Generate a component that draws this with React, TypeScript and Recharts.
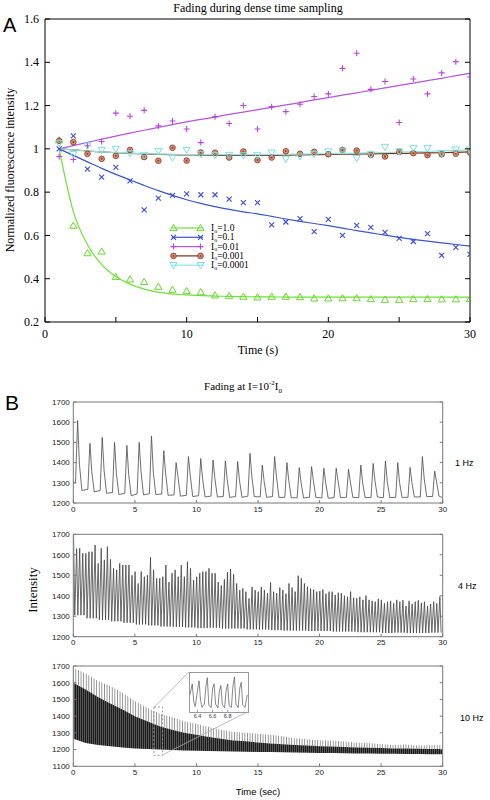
import React from 'react';
import {
  ComposedChart,
  LineChart,
  Line,
  Scatter,
  Area,
  XAxis,
  YAxis,
  ReferenceArea,
  ReferenceLine,
  Legend,
} from 'recharts';

const SERIF = '"Liberation Serif", "DejaVu Serif", serif';
const SANS = '"Liberation Sans", Arial, sans-serif';

// ---- panel A: one frame per second, normalized intensity ----
const TIME_A = [1, 2, 3, 4, 5, 6, 7, 8, 9, 10, 11, 12, 13, 14, 15, 16, 17, 18, 19, 20, 21, 22, 23, 24, 25, 26, 27, 28, 29, 30];

const PTS_1 = [1.04, 0.645, 0.518, 0.526, 0.408, 0.397, 0.385, 0.363, 0.349, 0.343, 0.338, 0.323, 0.32, 0.317, 0.314, 0.317, 0.317, 0.315, 0.309, 0.309, 0.31, 0.31, 0.306, 0.303, 0.303, 0.306, 0.306, 0.305, 0.305, 0.307];
const FIT_1 = [1.0, 0.71, 0.557, 0.465, 0.41, 0.375, 0.352, 0.338, 0.329, 0.325, 0.322, 0.32, 0.318, 0.317, 0.316, 0.316, 0.315, 0.315, 0.315, 0.315, 0.315, 0.315, 0.315, 0.315, 0.315, 0.315, 0.315, 0.315, 0.315, 0.315];

const PTS_01 = [1.0, 1.06, 0.906, 0.869, 0.914, 0.852, 0.718, 0.772, 0.785, 0.792, 0.788, 0.788, 0.768, 0.752, 0.752, 0.649, 0.662, 0.678, 0.618, 0.674, 0.6, 0.646, 0.637, 0.614, 0.586, 0.572, 0.608, 0.508, 0.545, 0.512];
const FIT_01 = [1.0, 0.97, 0.94, 0.91, 0.882, 0.856, 0.831, 0.807, 0.785, 0.765, 0.748, 0.733, 0.72, 0.709, 0.7, 0.688, 0.676, 0.665, 0.655, 0.645, 0.634, 0.622, 0.612, 0.601, 0.591, 0.582, 0.574, 0.566, 0.558, 0.551];

const PTS_001 = [0.965, 0.951, 1.015, 1.034, 1.165, 1.151, 1.178, 1.106, 1.129, 1.092, 1.029, 1.148, 1.117, 1.2, 1.092, 1.195, 1.172, 1.206, 1.242, 1.254, 1.372, 1.442, 1.275, 1.311, 1.122, 1.323, 1.254, 1.351, 1.403, 1.332];
const FIT_001 = [1.0, 1.015, 1.03, 1.045, 1.059, 1.073, 1.086, 1.099, 1.112, 1.125, 1.136, 1.147, 1.159, 1.17, 1.181, 1.192, 1.203, 1.214, 1.226, 1.237, 1.248, 1.259, 1.27, 1.282, 1.293, 1.304, 1.315, 1.326, 1.338, 1.349];

const PTS_0001 = [1.037, 1.031, 0.977, 0.954, 0.968, 0.995, 0.962, 0.945, 1.005, 0.946, 0.983, 0.982, 0.96, 0.988, 0.948, 0.96, 0.989, 0.977, 0.986, 0.975, 0.995, 0.992, 0.972, 0.965, 0.986, 0.98, 0.971, 0.975, 0.978, 0.983];
const FIT_0001 = [1.0, 0.995, 0.99, 0.986, 0.982, 0.979, 0.977, 0.975, 0.973, 0.972, 0.971, 0.97, 0.97, 0.97, 0.97, 0.97, 0.971, 0.972, 0.973, 0.974, 0.975, 0.976, 0.977, 0.978, 0.979, 0.98, 0.981, 0.982, 0.984, 0.986];

const PTS_00001 = [1.026, 0.975, 1.015, 0.995, 1.0, 0.98, 0.97, 0.99, 0.96, 0.995, 0.975, 0.971, 0.972, 0.97, 0.97, 0.983, 0.954, 0.965, 0.975, 0.988, 0.991, 0.957, 0.975, 1.009, 0.988, 1.003, 1.003, 0.98, 0.997, 0.997];
const FIT_00001 = [1.0, 0.995, 0.99, 0.986, 0.983, 0.98, 0.978, 0.976, 0.975, 0.974, 0.973, 0.973, 0.973, 0.973, 0.973, 0.974, 0.975, 0.976, 0.977, 0.978, 0.979, 0.98, 0.982, 0.983, 0.985, 0.987, 0.989, 0.991, 0.993, 0.995];

const X_TICKS_A = [0, 5, 10, 15, 20, 25, 30];
const Y_TICKS_A = [0.2, 0.4, 0.6, 0.8, 1, 1.2, 1.4, 1.6];

const SERIES_A = [
  { label: '1.0', pts: PTS_1, fit: FIT_1, line: '#6ee03a', color: '#66d82a', fill: 'none', kind: 'triUp' },
  { label: '0.1', pts: PTS_01, fit: FIT_01, line: '#3a55d0', color: '#3a4ad8', fill: 'none', kind: 'cross' },
  { label: '0.01', pts: PTS_001, fit: FIT_001, line: '#b455dc', color: '#b944e0', fill: 'none', kind: 'plus' },
  { label: '0.001', pts: PTS_0001, fit: FIT_0001, line: '#7a2d18', color: '#8b3a26', fill: '#d9967c', kind: 'dot' },
  { label: '0.0001', pts: PTS_00001, fit: FIT_00001, line: '#8ee8e0', color: '#78e0da', fill: 'none', kind: 'triDown' },
];

// ---- panel B: fading at I = 1e-2 I0 ----
const X_TICKS_B = [0, 5, 10, 15, 20, 25, 30];
const Y_TICKS_B = [1200, 1300, 1400, 1500, 1600, 1700];
const Y_TICKS_B3 = [1100, 1200, 1300, 1400, 1500, 1600, 1700];

// 1 Hz: one flash per second
const CYCLE_1HZ = [0, 1, 2, 3, 4, 5, 6, 7, 8, 9, 10, 11, 12, 13, 14, 15, 16, 17, 18, 19, 20, 21, 22, 23, 24, 25, 26, 27, 28, 29];
const PEAK_1HZ = [1608, 1495, 1525, 1500, 1485, 1500, 1532, 1459, 1400, 1430, 1420, 1413, 1408, 1405, 1446, 1388, 1430, 1400, 1375, 1380, 1372, 1372, 1367, 1388, 1396, 1408, 1400, 1376, 1430, 1358];
const SHOULDER_1HZ = [1390, 1355, 1362, 1345, 1340, 1355, 1350, 1345, 1330, 1335, 1320, 1320, 1315, 1310, 1330, 1305, 1330, 1310, 1300, 1310, 1300, 1310, 1305, 1300, 1310, 1305, 1300, 1300, 1320, 1305];
const TAIL_1HZ = [1262, 1255, 1248, 1242, 1236, 1240, 1242, 1238, 1234, 1232, 1230, 1230, 1228, 1228, 1232, 1228, 1228, 1226, 1225, 1228, 1224, 1227, 1228, 1226, 1230, 1227, 1228, 1230, 1232, 1234];
const BASE_1HZ = [1300, 1268, 1262, 1252, 1248, 1245, 1246, 1244, 1240, 1238, 1236, 1234, 1232, 1232, 1234, 1230, 1232, 1228, 1226, 1228, 1225, 1226, 1228, 1226, 1228, 1226, 1228, 1228, 1230, 1232];
const END_1HZ = 1226;

// 4 Hz: spike heights, four per second
const PEAK_4HZ = [
  1700, 1630, 1632, 1607, 1607, 1615, 1615, 1648, 1558, 1632, 1575, 1640,
  1578, 1534, 1526, 1558, 1550, 1550, 1550, 1500, 1518, 1460, 1518, 1493,
  1500, 1588, 1526, 1485, 1485, 1493, 1550, 1467, 1510, 1526, 1493, 1550,
  1493, 1566, 1534, 1476, 1493, 1510, 1518, 1518, 1534, 1510, 1510, 1467,
  1450, 1480, 1515, 1530, 1505, 1460, 1428, 1436, 1420, 1387, 1443, 1428,
  1420, 1443, 1428, 1412, 1465, 1420, 1412, 1440, 1428, 1410, 1460, 1440,
  1420, 1498, 1485, 1460, 1444, 1435, 1430, 1420, 1423, 1430, 1410, 1420,
  1420, 1404, 1415, 1412, 1400, 1395, 1420, 1390, 1388, 1395, 1380, 1400,
  1380, 1375, 1371, 1385, 1380, 1363, 1371, 1375, 1363, 1380, 1371, 1378,
  1350, 1375, 1360, 1371, 1378, 1365, 1371, 1350, 1360, 1371, 1363, 1395,
];
// baseline between spikes, one value per second
const BASE_4HZ = [1305, 1290, 1282, 1275, 1268, 1260, 1255, 1250, 1248, 1245, 1242, 1244, 1240, 1240, 1236, 1235, 1232, 1230, 1230, 1228, 1228, 1225, 1225, 1222, 1222, 1218, 1220, 1218, 1218, 1220];

// 10 Hz: too dense to resolve, read as envelopes per second
const TIME_10HZ = [0, 1, 2, 3, 4, 5, 6, 7, 8, 9, 10, 11, 12, 13, 14, 15, 16, 17, 18, 19, 20, 21, 22, 23, 24, 25, 26, 27, 28, 29, 30];
const UPPER_10HZ = [1690, 1655, 1610, 1580, 1540, 1490, 1450, 1415, 1395, 1370, 1355, 1335, 1318, 1305, 1300, 1295, 1288, 1280, 1268, 1262, 1256, 1255, 1248, 1242, 1240, 1232, 1228, 1230, 1224, 1226, 1226];
const CORE_10HZ = [1600, 1560, 1515, 1475, 1440, 1400, 1370, 1340, 1318, 1300, 1288, 1275, 1265, 1255, 1250, 1242, 1236, 1232, 1228, 1224, 1220, 1218, 1215, 1213, 1211, 1209, 1207, 1206, 1205, 1204, 1203];
const LOWER_10HZ = [1265, 1240, 1228, 1220, 1212, 1207, 1203, 1200, 1197, 1195, 1193, 1191, 1190, 1188, 1187, 1186, 1185, 1184, 1182, 1181, 1180, 1179, 1178, 1177, 1176, 1175, 1175, 1174, 1173, 1172, 1172];

// zoomed inset, 6.3 - 7.07 s
const INSET_TIME = [6.3, 6.33, 6.35, 6.37, 6.4, 6.42, 6.44, 6.46, 6.49, 6.51, 6.53, 6.55, 6.58, 6.6, 6.62, 6.64, 6.67, 6.69, 6.71, 6.73, 6.76, 6.78, 6.8, 6.82, 6.85, 6.87, 6.89, 6.91, 6.94, 6.96, 6.98, 7.0, 7.03, 7.06];
const INSET_VALUE = [1420, 1560, 1330, 1270, 1480, 1600, 1350, 1260, 1300, 1520, 1640, 1290, 1255, 1500, 1560, 1300, 1250, 1470, 1540, 1290, 1255, 1480, 1560, 1280, 1260, 1530, 1650, 1300, 1255, 1500, 1580, 1290, 1260, 1420];
const INSET_TICKS = [6.4, 6.6, 6.8];

const fitData = (vals: number[]) => TIME_A.map((t, i) => ({ t, v: vals[i] }));

const oneHz = [
  { t: 0, v: BASE_1HZ[0] },
  ...CYCLE_1HZ.flatMap((k, i) => [
    { t: k + 0.18, v: BASE_1HZ[i] },
    { t: k + 0.35, v: PEAK_1HZ[i] },
    { t: k + 0.5, v: SHOULDER_1HZ[i] },
    { t: k + 0.7, v: TAIL_1HZ[i] },
  ]),
  { t: 30, v: END_1HZ },
];

const fourHz = PEAK_4HZ.flatMap((p, i) => [
  { t: i * 0.25 + 0.02, v: p },
  { t: i * 0.25 + 0.12, v: BASE_4HZ[Math.floor(i / 4)] },
]);

const tenHz = TIME_10HZ.map((t, i) => ({
  t,
  outer: [CORE_10HZ[i], UPPER_10HZ[i]],
  inner: [LOWER_10HZ[i], CORE_10HZ[i]],
}));

const insetData = INSET_TIME.map((t, i) => ({ t, v: INSET_VALUE[i] }));

type Side = 'bottom' | 'top' | 'left' | 'right';
type TickOpts = {
  color: string;
  len: number;
  font: string;
  size: number;
  xGap: number;
  yGap: number;
  ink: string;
  showX?: (v: number) => boolean;
};

// ticks point inward; labels only on bottom/left
const makeTick = (side: Side, o: TickOpts) => (props: any) => {
  const { x, y, payload } = props;
  const v = payload.value;
  if (side === 'bottom') {
    const show = !o.showX || o.showX(v);
    return (
      <g>
        <line x1={x} x2={x} y1={y} y2={y - o.len} stroke={o.color} />
        {show && (
          <text x={x} y={y + o.xGap} textAnchor="middle" fontFamily={o.font} fontSize={o.size} fill={o.ink}>
            {v}
          </text>
        )}
      </g>
    );
  }
  if (side === 'top') return <line x1={x} x2={x} y1={y} y2={y + o.len} stroke={o.color} />;
  if (side === 'left') {
    return (
      <g>
        <line x1={x} x2={x + o.len} y1={y} y2={y} stroke={o.color} />
        <text x={x - o.yGap} y={y + o.size * 0.35} textAnchor="end" fontFamily={o.font} fontSize={o.size} fill={o.ink}>
          {v}
        </text>
      </g>
    );
  }
  return <line x1={x} x2={x - o.len} y1={y} y2={y} stroke={o.color} />;
};

// axes need a non-zero size to be drawn, so each takes 1px of the margin
const boxAxes = (xDomain: number[], xTicks: number[], yDomain: number[], yTicks: number[], o: TickOpts) => {
  const common = {
    type: 'number' as const,
    interval: 0 as const,
    tickLine: false,
    tickSize: 0,
    tickMargin: 0,
    allowDataOverflow: true,
    axisLine: { stroke: o.color },
  };
  return [
    <XAxis key="xb" xAxisId="b" dataKey="t" domain={xDomain} ticks={xTicks} height={1} tick={makeTick('bottom', o)} {...common} />,
    <XAxis key="xt" xAxisId="t" orientation="top" domain={xDomain} ticks={xTicks} height={1} tick={makeTick('top', o)} {...common} />,
    <YAxis key="yl" yAxisId="l" domain={yDomain} ticks={yTicks} width={1} tick={makeTick('left', o)} {...common} />,
    <YAxis key="yr" yAxisId="r" orientation="right" domain={yDomain} ticks={yTicks} width={1} tick={makeTick('right', o)} {...common} />,
  ];
};

const Marker = ({ kind, cx, cy, color, fill }: any) => {
  if (kind === 'triUp')
    return <polygon points={`${cx},${cy - 3.6} ${cx - 3.6},${cy + 2.6} ${cx + 3.6},${cy + 2.6}`} fill="none" stroke={color} strokeWidth={1} />;
  if (kind === 'cross')
    return <path d={`M${cx - 2.5},${cy - 2.5}L${cx + 2.5},${cy + 2.5}M${cx - 2.5},${cy + 2.5}L${cx + 2.5},${cy - 2.5}`} stroke={color} strokeWidth={1.1} />;
  if (kind === 'plus')
    return <path d={`M${cx - 3},${cy}H${cx + 3}M${cx},${cy - 3}V${cy + 3}`} stroke={color} strokeWidth={1.1} />;
  if (kind === 'dot')
    return (
      <g>
        <circle cx={cx} cy={cy} r={2.8} fill={fill} stroke={color} strokeWidth={0.9} />
        <circle cx={cx} cy={cy} r={1} fill={color} />
      </g>
    );
  return <polygon points={`${cx - 3.6},${cy - 2.6} ${cx + 3.6},${cy - 2.6} ${cx},${cy + 3.6}`} fill="none" stroke={color} strokeWidth={1} />;
};

const LegendA = () => (
  <svg width={110} height={52}>
    {SERIES_A.map((s, i) => {
      const y = 6 + i * 9.3;
      return (
        <g key={s.label}>
          <line x1={4} x2={35} y1={y} y2={y} stroke={s.line} strokeWidth={1.2} />
          <Marker kind={s.kind} cx={5.5} cy={y} color={s.color} fill={s.fill} />
          <Marker kind={s.kind} cx={32.5} cy={y} color={s.color} fill={s.fill} />
          <text x={43} y={y + 3} fontFamily={SERIF} fontSize={9.5} fill="#000">
            I<tspan fontSize={6} dy={1.5}>o</tspan>
            <tspan dy={-1.5}>={s.label}</tspan>
          </text>
        </g>
      );
    })}
  </svg>
);

const tickA: TickOpts = { color: '#000', len: 5, font: SERIF, size: 12, xGap: 15.5, yGap: 6, ink: '#000', showX: (v) => v % 10 === 0 };
const tickB: TickOpts = { color: '#777', len: 3, font: SANS, size: 8, xGap: 8.5, yGap: 3.5, ink: '#222' };

const text = (left: number, top: number, size: number, font: string, extra: React.CSSProperties = {}): React.CSSProperties => ({
  position: 'absolute',
  left,
  top,
  fontSize: size,
  fontFamily: font,
  lineHeight: 1,
  whiteSpace: 'nowrap',
  color: '#000',
  ...extra,
});

const rotated = (cx: number, cy: number, size: number, font: string): React.CSSProperties => ({
  position: 'absolute',
  left: cx - 150,
  top: cy - 8,
  width: 300,
  height: 16,
  lineHeight: '16px',
  textAlign: 'center',
  transform: 'rotate(-90deg)',
  fontSize: size,
  fontFamily: font,
  color: '#000',
});

const Trace = ({ top, mt, mb, yDomain, yTicks, data, stroke }: any) => (
  <div style={{ position: 'absolute', left: 0, top }}>
    <ComposedChart width={490} height={125} margin={{ top: mt - 1, right: 46.3, bottom: mb - 1, left: 72.3 }}>
      {boxAxes([0, 30], X_TICKS_B, yDomain, yTicks, tickB)}
      <Line xAxisId="b" yAxisId="l" data={data} dataKey="v" type="linear" stroke={stroke} strokeWidth={0.8} dot={false} activeDot={false} isAnimationActive={false} />
    </ComposedChart>
  </div>
);

export default function App() {
  return (
    <div style={{ position: 'absolute', left: 0, top: 0, width: 490, height: 800, background: '#fff', overflow: 'hidden' }}>
      {/* panel A */}
      <div style={text(3, 15, 20, SANS)}>A</div>
      <div style={text(108, 2, 12, SERIF, { width: 300, textAlign: 'center' })}>Fading during dense time sampling</div>
      <div style={rotated(10, 170, 12, SERIF)}>Normalized fluorescence intensity</div>
      <div style={{ position: 'absolute', left: 0, top: 0 }}>
        <ComposedChart width={490} height={345} margin={{ top: 18, right: 19, bottom: 22, left: 44 }}>
          {boxAxes([0, 30], X_TICKS_A, [0.2, 1.6], Y_TICKS_A, tickA)}
          {SERIES_A.map((s) => (
            <Line
              key={`fit-${s.label}`}
              xAxisId="b"
              yAxisId="l"
              data={fitData(s.fit)}
              dataKey="v"
              type="monotone"
              stroke={s.line}
              strokeWidth={1.2}
              dot={false}
              activeDot={false}
              isAnimationActive={false}
            />
          ))}
          {SERIES_A.map((s) => (
            <Scatter
              key={`pts-${s.label}`}
              xAxisId="b"
              yAxisId="l"
              data={fitData(s.pts)}
              dataKey="v"
              isAnimationActive={false}
              shape={(p: any) => <Marker kind={s.kind} cx={p.cx} cy={p.cy} color={s.color} fill={s.fill} />}
            />
          ))}
          <Legend
            layout="vertical"
            align="center"
            verticalAlign="middle"
            content={() => <LegendA />}
            wrapperStyle={{ left: 168, top: 222, width: 110, height: 52 }}
          />
        </ComposedChart>
      </div>
      <div style={text(108, 344, 12, SERIF, { width: 300, textAlign: 'center' })}>Time (s)</div>

      {/* panel B */}
      <div style={text(5, 392, 21, SANS)}>B</div>
      <div style={text(93, 380, 11, SERIF, { width: 300, textAlign: 'center' })}>
        Fading at I=10<sup style={{ fontSize: 7, verticalAlign: '5px' }}>-2</sup>I<sub style={{ fontSize: 7, verticalAlign: '-3px' }}>0</sub>
      </div>

      <Trace top={395} mt={7} mb={17} yDomain={[1200, 1700]} yTicks={Y_TICKS_B} data={oneHz} stroke="#4a4a4a" />
      <div style={text(455, 459, 9, SANS)}>1 Hz</div>

      <Trace top={527} mt={7.3} mb={15.3} yDomain={[1200, 1700]} yTicks={Y_TICKS_B} data={fourHz} stroke="#444" />
      <div style={text(458, 582, 9, SANS)}>4 Hz</div>
      <div style={rotated(33, 590, 13, SERIF)}>Intensity</div>

      <div style={{ position: 'absolute', left: 0, top: 659 }}>
        <ComposedChart width={490} height={125} margin={{ top: 6, right: 46.3, bottom: 16.7, left: 72.3 }}>
          <defs>
            <pattern id="core10" width="2" height="6" patternUnits="userSpaceOnUse">
              <rect width="2" height="6" fill="#1a1a1a" />
              <rect width="0.8" height="6" fill="#666" />
            </pattern>
            <pattern id="spike10" width="2.6" height="6" patternUnits="userSpaceOnUse">
              <rect width="0.9" height="6" fill="#8a8a8a" />
            </pattern>
          </defs>
          {boxAxes([0, 30], X_TICKS_B, [1100, 1700], Y_TICKS_B3, tickB)}
          <Area xAxisId="b" yAxisId="l" data={tenHz} dataKey="outer" type="linear" stroke="none" fill="url(#spike10)" fillOpacity={1} isAnimationActive={false} />
          <Area xAxisId="b" yAxisId="l" data={tenHz} dataKey="inner" type="linear" stroke="none" fill="url(#core10)" fillOpacity={1} isAnimationActive={false} />
          <ReferenceArea xAxisId="b" yAxisId="l" x1={6.55} x2={7.25} y1={1165} y2={1455} fill="none" stroke="#999" strokeDasharray="2 2" ifOverflow="visible" />
          <ReferenceLine xAxisId="b" yAxisId="l" segment={[{ x: 6.6, y: 1455 }, { x: 9.4, y: 1665 }]} stroke="#aaa" strokeWidth={0.8} ifOverflow="visible" />
          <ReferenceLine xAxisId="b" yAxisId="l" segment={[{ x: 7.25, y: 1168 }, { x: 14.3, y: 1432 }]} stroke="#aaa" strokeWidth={0.8} ifOverflow="visible" />
        </ComposedChart>
      </div>
      <div style={text(460, 714, 9, SANS)}>10 Hz</div>
      <div style={text(108, 787, 9.5, SANS, { width: 300, textAlign: 'center' })}>Time (sec)</div>

      {/* inset */}
      <div style={{ position: 'absolute', left: 189, top: 672, width: 60, height: 41, boxSizing: 'border-box', border: '1px solid #999', background: '#fff' }} />
      <div style={{ position: 'absolute', left: 189, top: 672 }}>
        <LineChart width={60} height={52} margin={{ top: 1, right: 1, bottom: 11, left: 1 }}>
          <XAxis
            xAxisId="b"
            type="number"
            dataKey="t"
            domain={[6.3, 7.07]}
            ticks={INSET_TICKS}
            interval={0}
            height={1}
            tickLine={false}
            tickSize={0}
            tickMargin={0}
            axisLine={false}
            allowDataOverflow
            tick={makeTick('bottom', { color: '#999', len: 2, font: SANS, size: 5.5, xGap: 6, yGap: 0, ink: '#333' })}
          />
          <YAxis yAxisId="l" type="number" domain={[1200, 1700]} hide width={0} allowDataOverflow />
          <Line xAxisId="b" yAxisId="l" data={insetData} dataKey="v" type="linear" stroke="#555" strokeWidth={0.7} dot={false} activeDot={false} isAnimationActive={false} />
        </LineChart>
      </div>
    </div>
  );
}
